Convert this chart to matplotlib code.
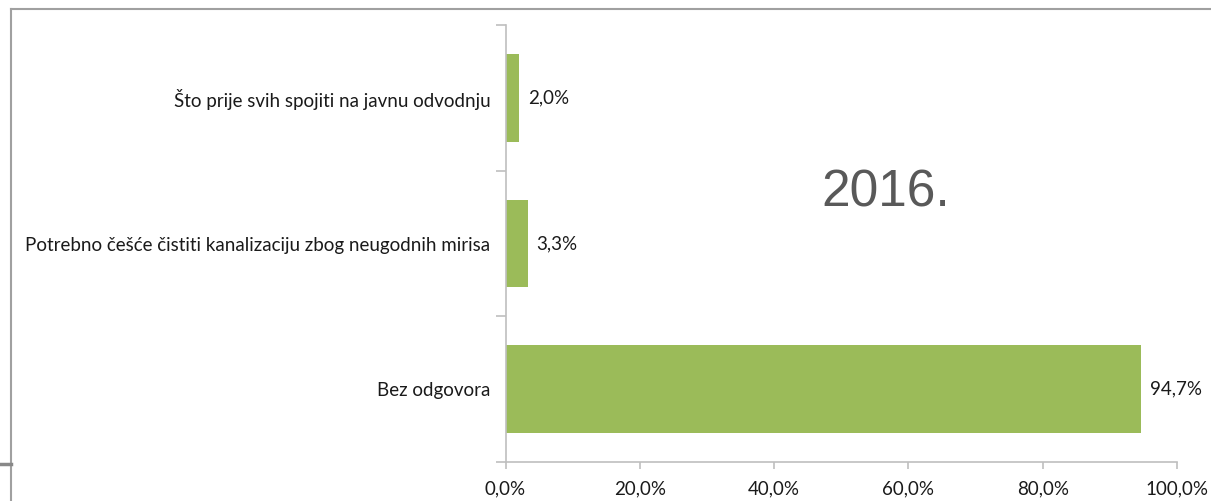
import matplotlib.pyplot as plt
from matplotlib.lines import Line2D
from matplotlib.ticker import FixedLocator

# answers, listed bottom to top
categories = [
    "Bez odgovora",
    "Potrebno češće čistiti kanalizaciju zbog neugodnih mirisa",
    "Što prije svih spojiti na javnu odvodnju",
]
values = [94.7, 3.3, 2.0]
xticks = [0, 20, 40, 60, 80, 100]

W, H = 1211, 501
plt.rcParams['font.family'] = ['Lato', 'DejaVu Sans']

fig = plt.figure(figsize=(W / 100, H / 100), dpi=100)
ax = fig.add_axes([505.5 / W, 1 - 462 / H, (1177 - 505.5) / W, (462 - 25) / H])

ypos = list(range(len(categories)))
ax.barh(ypos, values, height=0.6, color="#9BBB59")

for y, v in zip(ypos, values):
    ax.text(v + 1.3, y, f"{v:.1f}%".replace(".", ","), va="center", ha="left",
            fontsize=13.5, color="#1a1a1a")

ax.set_xlim(0, 100)
ax.set_ylim(-0.5, len(categories) - 0.5)
ax.set_xticks(xticks)
ax.set_xticklabels([f"{t:.1f}%".replace(".", ",") for t in xticks], fontsize=13.5, color="#1a1a1a")
ax.set_yticks(ypos)
ax.set_yticklabels(categories, fontsize=13.5, color="#1a1a1a")
ax.tick_params(axis="y", length=0, pad=11)
ax.yaxis.set_minor_locator(FixedLocator([-0.5 + i for i in range(len(categories) + 1)]))
ax.tick_params(axis="y", which="minor", length=7, color="#BFBFBF", width=1.2)
ax.tick_params(axis="x", length=5, color="#BFBFBF", width=1.2, pad=8)

for s in ["top", "right"]:
    ax.spines[s].set_visible(False)
for s in ["left", "bottom"]:
    ax.spines[s].set_color("#BFBFBF")
    ax.spines[s].set_linewidth(1.2)

ax.text(0.567, 0.615, "2016.", transform=ax.transAxes, ha="center", va="center",
        fontsize=37, color="#595959", family="Liberation Sans")

# outer frame of the chart box
frame = dict(color="#A0A0A0", linewidth=1.5, transform=None)
fig.add_artist(Line2D([11, W], [H - 9, H - 9], **frame))
fig.add_artist(Line2D([11, 11], [0, H - 9], **frame))
fig.add_artist(Line2D([0, 11], [H - 464, H - 464], color="#888888", linewidth=2.5, transform=None))

fig.savefig("out.png", dpi=100)
